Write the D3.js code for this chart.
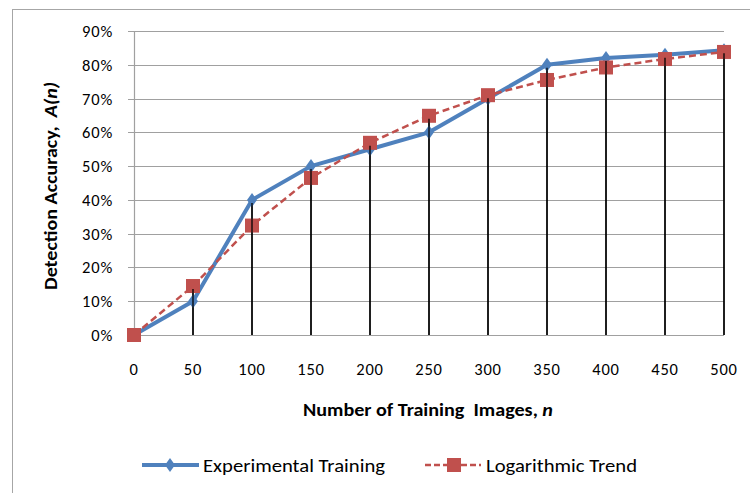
<!DOCTYPE html>
<html><head><meta charset="utf-8">
<script src="https://cdn.jsdelivr.net/npm/d3@7"></script>
<style>body{margin:0;background:#fff}svg{display:block}text{font-family:Carlito,Lato,"Open Sans",sans-serif}</style>
</head><body><svg id="c" width="750" height="493"></svg>
<script>
const nValues = [0,50,100,150,200,250,300,350,400,450,500];
const experimental = [0,10,40,50,55,60,70,80,82,83,84.3];
const logTrend = [0,14.5,32.4,46.5,56.9,64.9,71,75.5,79.2,81.7,83.8];
const yTicks = [0,10,20,30,40,50,60,70,80,90];
const xTicks = [0,50,100,150,200,250,300,350,400,450,500];

const svg = d3.select("#c");
const x = d3.scaleLinear().domain([0,500]).range([134,724]);
const y = d3.scaleLinear().domain([0,90]).range([335,31]);

// outer border
svg.append("rect").attr("x",12.5).attr("y",9.5).attr("width",760).attr("height",500)
  .attr("fill","none").attr("stroke","#a6a6a6").attr("stroke-width",1);

// gridlines
svg.append("g").selectAll("line").data(yTicks).join("line")
  .attr("x1",128).attr("x2",724).attr("y1",d=>Math.round(y(d))+0.5).attr("y2",d=>Math.round(y(d))+0.5)
  .attr("stroke","#a0a0a0").attr("stroke-width",1.2);
svg.append("line").attr("x1",134.5).attr("x2",134.5).attr("y1",y(90)).attr("y2",y(0))
  .attr("stroke","#a0a0a0").attr("stroke-width",1.2);

// y labels
svg.append("g").selectAll("text").data(yTicks).join("text")
  .attr("x",113).attr("y",d=>y(d)+6).attr("text-anchor","end")
  .attr("font-size",16.5).attr("letter-spacing",0.8).attr("fill","#000").text(d=>d+"%");
// x labels
svg.append("g").selectAll("text").data(xTicks).join("text")
  .attr("x",d=>x(d)).attr("y",375).attr("text-anchor","middle")
  .attr("font-size",16.5).attr("letter-spacing",0.8).attr("fill","#000").text(d=>d);

const dropData = nValues.map((n,i)=>({n,v:Math.max(experimental[i],logTrend[i])})).filter(d=>d.n>0);
svg.append("g").selectAll("line").data(dropData).join("line")
  .attr("x1",d=>x(d.n)).attr("x2",d=>x(d.n)).attr("y1",d=>y(d.v)).attr("y2",y(0))
  .attr("stroke","#000").attr("stroke-width",1.3);

const line = d3.line().x(d=>x(d[0])).y(d=>y(d[1]));
const expData = nValues.map((n,i)=>[n,experimental[i]]);
const logData = nValues.map((n,i)=>[n,logTrend[i]]);
svg.append("path").datum(expData).attr("d",line).attr("fill","none")
  .attr("stroke","#4f81bd").attr("stroke-width",4).attr("stroke-linejoin","round");
const diamond = "M0,-7L5,0L0,7L-5,0Z";
svg.append("g").selectAll("path").data(expData).join("path")
  .attr("transform",d=>`translate(${x(d[0])},${y(d[1])})`).attr("d",diamond).attr("fill","#4f81bd");

svg.append("path").datum(logData).attr("d",line).attr("fill","none")
  .attr("stroke","#c0504d").attr("stroke-width",2.5).attr("stroke-dasharray","7,4");
svg.append("g").selectAll("rect").data(logData).join("rect")
  .attr("x",d=>x(d[0])-7).attr("y",d=>y(d[1])-7).attr("width",14).attr("height",14).attr("fill","#c0504d");

svg.append("g").selectAll("line").data(dropData).join("line")
  .attr("x1",d=>x(d.n)).attr("x2",d=>x(d.n)).attr("y1",d=>y(d.v)+3).attr("y2",y(0))
  .attr("stroke","#000").attr("stroke-width",1.3);

// axis titles
svg.append("text").attr("x",303).attr("y",416).attr("font-size",18.5)
  .attr("font-weight","bold").attr("textLength",250).attr("lengthAdjust","spacingAndGlyphs")
  .html('Number of Training&#160; Images, <tspan font-style="italic">n</tspan>');
svg.append("text").attr("transform","translate(57,290) rotate(-90)").attr("font-size",18.5)
  .attr("font-weight","bold").attr("textLength",208).attr("lengthAdjust","spacingAndGlyphs")
  .html('Detection Accuracy,&#160; <tspan font-style="italic">A(n)</tspan>');

// legend
svg.append("line").attr("x1",142).attr("x2",199).attr("y1",465).attr("y2",465).attr("stroke","#4f81bd").attr("stroke-width",4);
svg.append("path").attr("transform","translate(170,465)").attr("d",diamond).attr("fill","#4f81bd");
svg.append("text").attr("x",203).attr("y",471.5).attr("font-size",18.5)
  .attr("textLength",182).attr("lengthAdjust","spacingAndGlyphs").text("Experimental Training");
svg.append("line").attr("x1",425).attr("x2",481).attr("y1",465).attr("y2",465).attr("stroke","#c0504d").attr("stroke-width",2.5).attr("stroke-dasharray","6,3");
svg.append("rect").attr("x",447).attr("y",458).attr("width",14).attr("height",14).attr("fill","#c0504d");
svg.append("text").attr("x",486).attr("y",471.5).attr("font-size",18.5)
  .attr("textLength",151).attr("lengthAdjust","spacingAndGlyphs").text("Logarithmic Trend");
</script></body></html>
